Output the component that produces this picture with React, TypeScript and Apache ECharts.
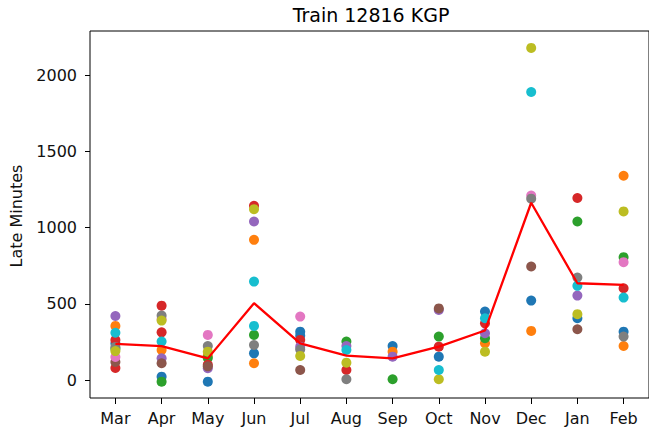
import React, { useEffect, useRef } from "react";
import * as echarts from "echarts";

const months = ["Mar", "Apr", "May", "Jun", "Jul", "Aug", "Sep", "Oct", "Nov", "Dec", "Jan", "Feb"];
const monthIdx = [0, 1, 2, 3, 4, 5, 6, 7, 8, 9, 10, 11];
const yTicks = [0, 500, 1000, 1500, 2000];

// [month index, late minutes] per colour group
const blue: [number, number][] = [[0, 240], [1, 22], [2, -11], [3, 175], [4, 317], [4, 290], [6, 223], [7, 153], [8, 449], [9, 521], [10, 405], [11, 317]];
const orange: [number, number][] = [[0, 355], [1, 197], [2, 160], [3, 920], [3, 110], [6, 186], [8, 241], [9, 322], [11, 1340], [11, 223]];
const green: [number, number][] = [[0, 205], [1, -11], [2, 144], [3, 296], [5, 252], [6, 5], [7, 285], [8, 274], [10, 1040], [11, 806]];
const red: [number, number][] = [[0, 263], [0, 79], [1, 488], [1, 313], [2, 100], [3, 1143], [4, 263], [5, 66], [7, 219], [8, 372], [10, 1194], [11, 602]];
const purple: [number, number][] = [[0, 420], [1, 142], [2, 77], [3, 1040], [4, 219], [5, 223], [6, 153], [7, 460], [8, 307], [10, 554]];
const brown: [number, number][] = [[0, 118], [1, 110], [2, 90], [4, 66], [7, 470], [9, 745], [10, 333]];
const pink: [number, number][] = [[0, 151], [1, 400], [2, 296], [4, 416], [9, 1210], [11, 773]];
const gray: [number, number][] = [[0, 217], [1, 423], [2, 223], [3, 230], [4, 200], [5, 5], [9, 1190], [10, 672], [11, 285]];
const olive: [number, number][] = [[0, 190], [1, 390], [2, 186], [3, 1121], [4, 158], [5, 114], [7, 5], [8, 186], [9, 2179], [10, 432], [11, 1106]];
const cyan: [number, number][] = [[0, 310], [1, 252], [3, 646], [3, 355], [5, 197], [7, 66], [8, 405], [9, 1890], [10, 618], [11, 541]];

const monthlyMean = [237, 223, 142, 504, 241, 160, 142, 219, 325, 1163, 635, 624];

const groups = [blue, orange, green, red, purple, brown, pink, gray, olive, cyan];
const palette = ["#1f77b4", "#ff7f0e", "#2ca02c", "#d62728", "#9467bd", "#8c564b", "#e377c2", "#7f7f7f", "#bcbd22", "#17becf"];

const FONT = "DejaVu Sans";

export default function App() {
  const ref = useRef<HTMLDivElement>(null);
  useEffect(() => {
    const chart = echarts.init(ref.current!, null, { renderer: "svg" });
    chart.setOption({
      animation: false,
      backgroundColor: "#ffffff",
      grid: {
        left: 90,
        top: 31,
        width: 563,
        height: 367,
        show: true,
        borderColor: "#000",
        borderWidth: 1,
        backgroundColor: "transparent",
      },
      xAxis: {
        type: "value",
        min: -0.55,
        max: 11.55,
        splitLine: { show: false },
        axisLine: { show: false, onZero: false },
        axisTick: { show: true, customValues: monthIdx, length: 6, lineStyle: { color: "#000", width: 1 } },
        axisLabel: {
          customValues: monthIdx,
          formatter: (v: number) => months[Math.round(v)] ?? "",
          margin: 12,
          fontSize: 16,
          fontFamily: FONT,
          color: "#111",
        },
      },
      yAxis: {
        type: "value",
        min: -118,
        max: 2290,
        splitLine: { show: false },
        axisLine: { show: false, onZero: false },
        axisTick: { show: true, customValues: yTicks, length: 5, lineStyle: { color: "#000", width: 1 } },
        axisLabel: {
          customValues: yTicks,
          formatter: (v: number) => String(v),
          margin: 13,
          fontSize: 16,
          fontFamily: FONT,
          color: "#111",
        },
      },
      graphic: [
        {
          type: "text",
          x: 371,
          y: 15,
          style: {
            text: "Train 12816 KGP",
            fontSize: 19,
            fontFamily: FONT,
            fill: "#000",
            textAlign: "center",
            textVerticalAlign: "middle",
          },
        },
        {
          type: "text",
          x: 16,
          y: 216,
          rotation: Math.PI / 2,
          style: {
            text: "Late Minutes",
            fontSize: 16,
            fontFamily: FONT,
            fill: "#111",
            textAlign: "center",
            textVerticalAlign: "middle",
          },
        },
      ],
      series: [
        ...groups.map((g, i) => ({
          type: "scatter",
          data: g,
          symbolSize: 10,
          itemStyle: { color: palette[i], opacity: 1 },
          silent: true,
          z: 2 + i * 0.01,
        })),
        {
          type: "line",
          data: monthlyMean.map((v, i) => [i, v]),
          symbol: "none",
          lineStyle: { color: "#ff0000", width: 2.3 },
          silent: true,
          z: 5,
        },
      ],
    });
    return () => chart.dispose();
  }, []);
  return <div ref={ref} style={{ position: "fixed", left: 0, top: 0, width: 649, height: 437 }} />;
}
